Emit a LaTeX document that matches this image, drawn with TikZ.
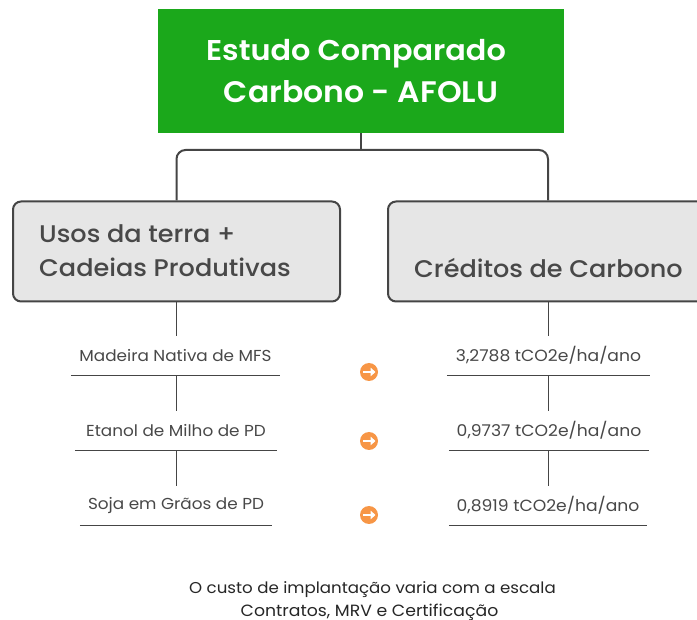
\documentclass[tikz,border=0pt]{standalone}
\usepackage{fontspec}
\setmainfont[FakeStretch=1.06]{Poppins}
\newfontfamily\pmed[FakeStretch=1.06]{Poppins Medium}
\newfontfamily\psemi[FakeStretch=1.06]{Poppins SemiBold}
\usetikzlibrary{arrows.meta}
\definecolor{rootgreen}{HTML}{1BA81B}
\definecolor{boxgrey}{HTML}{E6E6E6}
\definecolor{edgegrey}{HTML}{454545}
\definecolor{txtgrey}{HTML}{484848}
\definecolor{iconorange}{HTML}{F79646}
\tikzset{
  x=1pt,y=-1pt,
  rootbox/.style={fill=rootgreen,text=white,minimum width=406pt,minimum height=124pt,inner sep=0pt,align=center,font=\fontsize{28.6}{42.5}\psemi\selectfont},
  catbox/.style={draw=edgegrey,line width=2pt,rounded corners=8pt,fill=boxgrey,minimum height=100pt,inner sep=0pt},
  cattext/.style={text=txtgrey,inner sep=0pt,anchor=west,align=left,font=\fontsize{24.1}{34.5}\pmed\selectfont},
  itemtext/.style={text=txtgrey,font=\fontsize{15.9}{17}\selectfont,inner sep=0pt,minimum height=39pt,anchor=north},
  valuetext/.style={itemtext,font=\fontsize{16.2}{17}\selectfont},
  branch/.style={draw=edgegrey,line width=2pt,rounded corners=9pt},
  stem/.style={draw=edgegrey,line width=1pt},
  rulel/.style={draw=edgegrey,line width=1pt},
  icon/.style={circle,fill=iconorange,minimum size=18pt,inner sep=0pt},
  iconarrow/.style={draw=white,line width=2.4pt,-{Triangle[length=5pt,width=8.5pt]}},
  note/.style={text=black!85,font=\fontsize{15.7}{23}\selectfont,align=center,inner sep=0pt}
}
\begin{document}
\begin{tikzpicture}
\useasboundingbox (0,0) rectangle (697,620);
\node[rootbox] (root) at (361,71) {Estudo Comparado\kern10pt\\\fontsize{29.7}{42.5}\selectfont Carbono - AFOLU};
\node[catbox,minimum width=327pt] (usos) at (176.5,251.5) {};
\node[catbox,minimum width=320pt] (cred) at (548,251.5) {};
\node[cattext] (usostxt) at (39,250.5) {Usos da terra +\\Cadeias Produtivas};
\node[cattext] (credtxt) at (414,268) {Créditos de Carbono};
\coordinate (bend) at (361,150);
\draw[branch] (usos.north) |- (bend) -| (cred.north);
\draw[branch] (root.south) -- (bend);
% left column
\node[itemtext,minimum width=209pt] (a1) at (175.5,336) {Madeira Nativa de MFS};
\node[itemtext,minimum width=202pt] (a2) at (176,411) {Etanol de Milho de PD};
\node[itemtext,minimum width=192pt,yshift=-1pt] (a3) at (176,485) {Soja em Grãos de PD};
% right column
\node[valuetext,minimum width=203pt] (b1) at (548.5,336) {3,2788 tCO2e/ha/ano};
\node[valuetext,minimum width=200pt] (b2) at (549,411) {0,9737 tCO2e/ha/ano};
\node[valuetext,minimum width=198pt] (b3) at (548,486) {0,8919 tCO2e/ha/ano};
\foreach \n in {a1,a2,a3,b1,b2,b3}{
  \draw[rulel] (\n.south west) -- (\n.south east);
}
\draw[stem] (usos.south) -- (usos.south |- a1.north);
\draw[stem] (usos.south |- a1.south) -- (usos.south |- a2.north);
\draw[stem] (usos.south |- a2.south) -- (usos.south |- a3.north);
\draw[stem] (cred.south) -- (cred.south |- b1.north);
\draw[stem] (cred.south |- b1.south) -- (cred.south |- b2.north);
\draw[stem] (cred.south |- b2.south) -- (cred.south |- b3.north);
% icons
\foreach \n/\y in {i1/372,i2/441,i3/515}{
  \node[icon] (\n) at (369,\y) {};
  \draw[iconarrow] ([xshift=-6pt]\n.center) -- ([xshift=6.5pt]\n.center);
}
\node[note] (foot) at (372.5,601.5) {O custo de implantação varia com a escala\\\kern-6pt\fontsize{16.3}{23}\selectfont Contratos, MRV e Certificação};
\end{tikzpicture}
\end{document}
